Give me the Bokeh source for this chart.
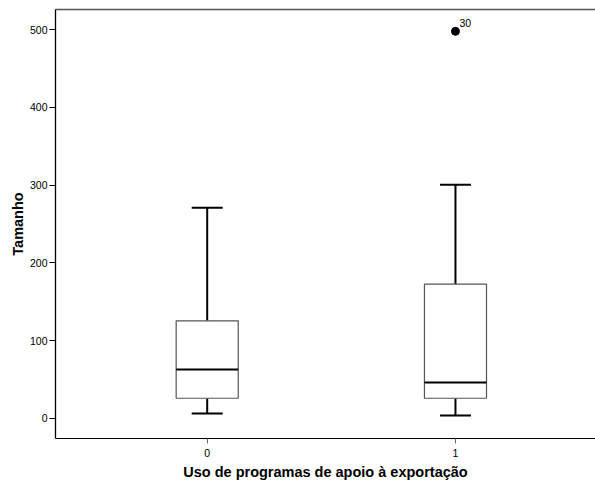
from bokeh.plotting import figure
from bokeh.models import ColumnDataSource, FixedTicker, LinearAxis, Range1d
from bokeh.embed import file_html
from bokeh.resources import INLINE
from bokeh.core.properties import value

# data
groups = [0, 1]
group_labels = ["0", "1"]
whisker_low = [6, 3.5]
q1 = [25.7, 25.7]
median = [62.7, 46]
q3 = [125.4, 172.5]
whisker_high = [271, 300.5]
outlier_x = [1]
outlier_y = [498]
outlier_labels = ["30"]

FONT = "Liberation Sans"

p = figure(width=595, height=488, output_backend="svg", toolbar_location=None,
           x_range=Range1d(-0.611, 1.564), y_range=Range1d(-26.1, 526.1),
           min_border_left=55, min_border_right=0, min_border_top=9, min_border_bottom=50)
p.outline_line_color = None
p.grid.grid_line_color = None
p.background_fill_color = "white"
p.border_fill_color = "white"

src = ColumnDataSource(dict(x=groups, lo=whisker_low, q1=q1, med=median, q3=q3, hi=whisker_high))

# whiskers
p.segment(x0="x", y0="q3", x1="x", y1="hi", source=src, line_color="black", line_width=2)
p.segment(x0="x", y0="lo", x1="x", y1="q1", source=src, line_color="black", line_width=2)
# caps
p.dash(x="x", y="hi", size=31, source=src, line_color="black", line_width=2)
p.dash(x="x", y="lo", size=31, source=src, line_color="black", line_width=2)
# boxes
p.vbar(x="x", bottom="q1", top="q3", width=0.25, source=src, fill_color="white",
       line_color="#555555", line_width=1.2)
# medians
p.dash(x="x", y="med", size=62, source=src, line_color="black", line_width=2.2)

# outlier
osrc = ColumnDataSource(dict(x=outlier_x, y=outlier_y, t=outlier_labels))
p.scatter(x="x", y="y", source=osrc, size=8, fill_color="black", line_color="black")
p.text(x="x", y="y", text="t", source=osrc, x_offset=4, y_offset=-8,
       text_font=value(FONT), text_font_size="10.5px", text_color="black",
       text_baseline="alphabetic", text_align="left")

# y axis
ya = p.yaxis[0]
ya.ticker = FixedTicker(ticks=[0, 100, 200, 300, 400, 500])
ya.minor_tick_line_color = None
ya.major_tick_out = 6
ya.major_tick_in = 0
ya.major_tick_line_color = "black"
ya.axis_line_color = "black"
ya.axis_line_width = 1.3
ya.major_label_standoff = 2
ya.major_label_text_font = FONT
ya.major_label_text_font_size = "10.5px"
ya.major_label_text_color = "black"
ya.axis_label = "Tamanho"
ya.axis_label_text_font = FONT
ya.axis_label_text_font_style = "bold"
ya.axis_label_text_font_size = "14.5px"
ya.axis_label_text_color = "black"
ya.axis_label_standoff = 1

# x axis
xa = p.xaxis[0]
xa.ticker = FixedTicker(ticks=groups)
xa.major_label_overrides = {g: l for g, l in zip(groups, group_labels)}
xa.minor_tick_line_color = None
xa.major_tick_out = 5
xa.major_tick_in = 0
xa.major_tick_line_color = "#666666"
xa.axis_line_color = "black"
xa.axis_line_width = 1
xa.major_label_standoff = 5
xa.major_label_text_font = FONT
xa.major_label_text_font_size = "10.5px"
xa.major_label_text_color = "black"
xa.axis_label = "Uso de programas de apoio à exportação"
xa.axis_label_text_font = FONT
xa.axis_label_text_font_style = "bold"
xa.axis_label_text_font_size = "14.5px"
xa.axis_label_text_color = "black"
xa.axis_label_standoff = 4

# top border line
top = LinearAxis(ticker=FixedTicker(ticks=[]), major_tick_out=0, major_tick_in=0,
                 minor_tick_line_color=None, major_label_standoff=0,
                 axis_line_color="#555555", axis_line_width=1.6)
p.add_layout(top, "above")

open("out.html", "w").write(file_html(p, INLINE))
